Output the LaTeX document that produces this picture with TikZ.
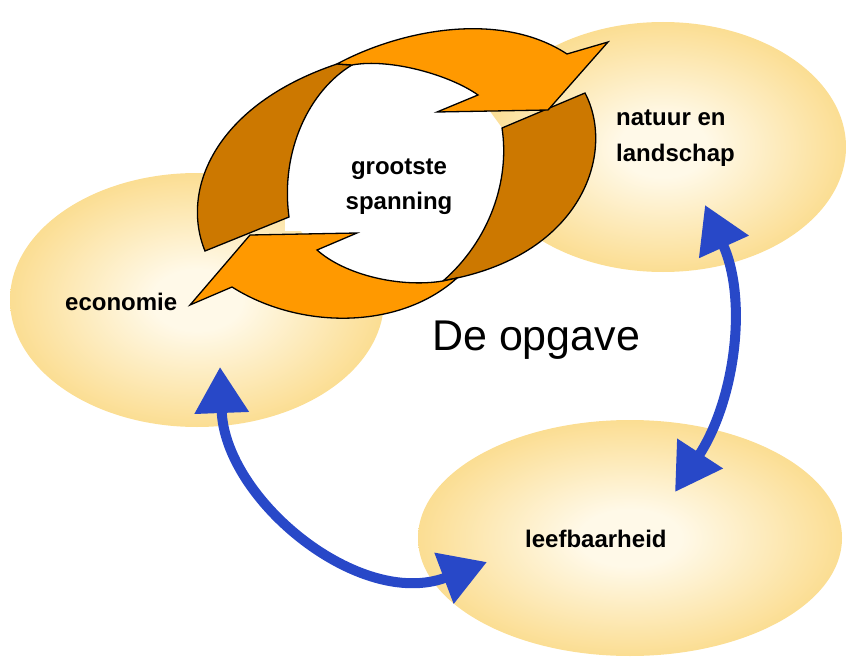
\documentclass[tikz,border=0pt]{standalone}
\usepackage{fontspec}
\setmainfont{Liberation Sans}
\usetikzlibrary{shapes.geometric, arrows.meta}

\definecolor{blobcore}{RGB}{255,249,232}
\definecolor{blobmid}{RGB}{251,220,142}
\definecolor{blobedge}{RGB}{244,190,78}
\definecolor{blobrim}{RGB}{248,210,125}
\definecolor{orangelight}{RGB}{255,153,0}
\definecolor{orangedark}{RGB}{204,120,0}
\definecolor{arrowblue}{RGB}{40,72,200}

\pgfdeclareradialshading{blob}{\pgfpoint{0bp}{0bp}}{color(0bp)=(blobcore); color(6bp)=(blobcore); color(26bp)=(blobmid); color(43bp)=(blobedge); color(50bp)=(blobrim)}

\tikzset{
  blob/.style={ellipse, shading=blob, inner sep=0pt},
  cyclelight/.style={fill=orangelight, draw=black, line width=1.3pt},
  cycledark/.style={fill=orangedark, draw=black, line width=1.3pt},
  bluearrow/.style={draw=arrowblue, line width=10pt,
    {Triangle[length=46pt, width=52pt]}-{Triangle[length=46pt, width=52pt]}},
  lab/.style={inner sep=0pt, anchor=base west, font=\fontsize{24}{28}\selectfont\bfseries}
}

\begin{document}
\begin{tikzpicture}[x=1pt, y=-1pt]
\useasboundingbox (0,0) rectangle (847,669);

% the three fields
\node[blob, minimum width=374pt, minimum height=254pt] (ecoBlob) at (197,300) {};
\node[blob, minimum width=366pt, minimum height=250pt] (natBlob) at (663,147) {};
\node[blob, minimum width=424pt, minimum height=236pt] (leefBlob) at (630,538) {};

% white patch and hole behind the cycle
\fill[white] (285,132) rectangle (510,231);
\fill[white] (478,95) .. controls (450,75) and (390,58) .. (352,65)
  .. controls (310,90) and (280,150) .. (289,217) -- (317,250)
  .. controls (345,275) and (400,288) .. (443,281)
  .. controls (490,240) and (510,180) .. (502,128) -- cycle;

% cycle arrows
\path[cycledark] (352,65) .. controls (310,90) and (280,150) .. (289,217) -- (205,251)
  .. controls (180,190) and (215,105) .. (337,64) -- cycle;
\path[cycledark] (443,281) .. controls (490,240) and (510,180) .. (502,128) -- (585,93)
  .. controls (615,150) and (585,250) .. (457,278) -- cycle;
\path[cyclelight] (352,65) -- (337,64) .. controls (400,30) and (500,10) .. (567,54)
  -- (608,42) -- (548,110) -- (437,112) -- (478,95)
  .. controls (450,75) and (390,58) .. (352,65) -- cycle;
\path[cyclelight] (357,233) -- (250,235) -- (190,305) -- (232,287)
  .. controls (300,330) and (400,330) .. (457,278) -- (443,281)
  .. controls (400,288) and (345,275) .. (317,250) -- cycle;

% labels
\node[lab, anchor=base] (spanTop) at (399,174) {grootste};
\node[lab, anchor=base] (spanBot) at (399,209) {spanning};
\node[lab] (natTop) at (616,125) {natuur en};
\node[lab] (natBot) at (616,161) {landschap};
\node[lab] (ecoLab) at (65,310) {economie};
\node[lab] (leefLab) at (525,547) {leefbaarheid};
\node[inner sep=0pt, anchor=base west, font=\fontsize{43}{50}\selectfont] (opgave) at (432,350) {De opgave};

% relations
\coordinate (ecoTip) at (220,367);
\coordinate (leefTipL) at (487,562);
\coordinate (natTip) at (705,205);
\coordinate (leefTipR) at (675,492);
\draw[bluearrow] (ecoTip) .. controls (225,500) and (360,610) .. (leefTipL);
\draw[bluearrow] (natTip) .. controls (748,300) and (735,400) .. (leefTipR);
\end{tikzpicture}
\end{document}
